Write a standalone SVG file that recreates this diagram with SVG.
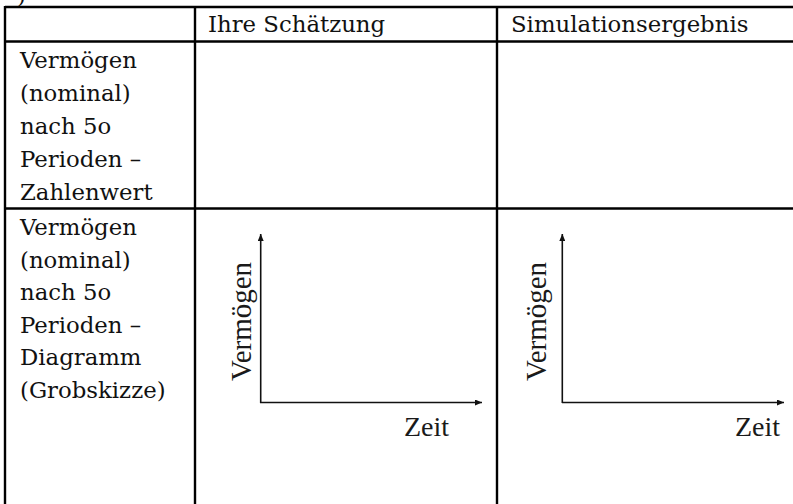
<svg xmlns="http://www.w3.org/2000/svg" width="793" height="504" viewBox="0 0 793 504">
<style>
.grid{stroke:#000;stroke-width:2.4;fill:none}
.t{font-family:"DejaVu Serif","Liberation Serif",serif;font-size:22.8px;fill:#111}
.ax{stroke:#111;stroke-width:1.6;fill:none}
.lab{font-family:"Liberation Serif","Times New Roman",serif;font-size:28px;fill:#1a1a1a}
.vl{font-size:29px}
</style>
<defs>
<marker id="ah" markerUnits="userSpaceOnUse" markerWidth="8" markerHeight="6" refX="7" refY="3" orient="auto">
<path d="M0,0 L7,3 L0,6 Z" fill="#111"/>
</marker>
</defs>
<rect width="793" height="504" fill="#fff"/>
<text class="t" x="17" y="3">)</text>
<g id="connectors">
<line class="grid" x1="5" y1="7" x2="800" y2="7"/>
<line class="grid" x1="5" y1="41.5" x2="800" y2="41.5"/>
<line class="grid" x1="5" y1="208.5" x2="800" y2="208.5"/>
<line class="grid" x1="5" y1="6" x2="5" y2="510"/>
<line class="grid" x1="195" y1="6" x2="195" y2="510"/>
<line class="grid" x1="497" y1="6" x2="497" y2="510"/>
</g>
<g id="header1"><text class="t" x="208" y="32">Ihre Schätzung</text></g>
<g id="header2"><text class="t" x="511" y="32">Simulationsergebnis</text></g>
<g id="row1">
<text class="t" x="20" y="68">Vermögen</text>
<text class="t" x="20" y="101">(nominal)</text>
<text class="t" x="20" y="134">nach 5o</text>
<text class="t" x="20" y="167">Perioden –</text>
<text class="t" x="20" y="200">Zahlenwert</text>
</g>
<g id="row2">
<text class="t" x="20" y="235">Vermögen</text>
<text class="t" x="20" y="267.5">(nominal)</text>
<text class="t" x="20" y="300">nach 5o</text>
<text class="t" x="20" y="332.5">Perioden –</text>
<text class="t" x="20" y="365">Diagramm</text>
<text class="t" x="20" y="397.5">(Grobskizze)</text>
</g>
<g id="chart1">
<line class="ax" x1="260.7" y1="403" x2="260.7" y2="234" marker-end="url(#ah)"/>
<line class="ax" x1="260" y1="402.5" x2="482" y2="402.5" marker-end="url(#ah)"/>
<text class="lab vl" text-anchor="middle" transform="translate(251,321.5) rotate(-90)">Vermögen</text>
<text class="lab" text-anchor="end" x="449" y="436">Zeit</text>
</g>
<g id="chart2">
<line class="ax" x1="562.3" y1="403" x2="562.3" y2="234" marker-end="url(#ah)"/>
<line class="ax" x1="562" y1="402.5" x2="784" y2="402.5" marker-end="url(#ah)"/>
<text class="lab vl" text-anchor="middle" transform="translate(546,321.5) rotate(-90)">Vermögen</text>
<text class="lab" text-anchor="end" x="780" y="436">Zeit</text>
</g>
</svg>
